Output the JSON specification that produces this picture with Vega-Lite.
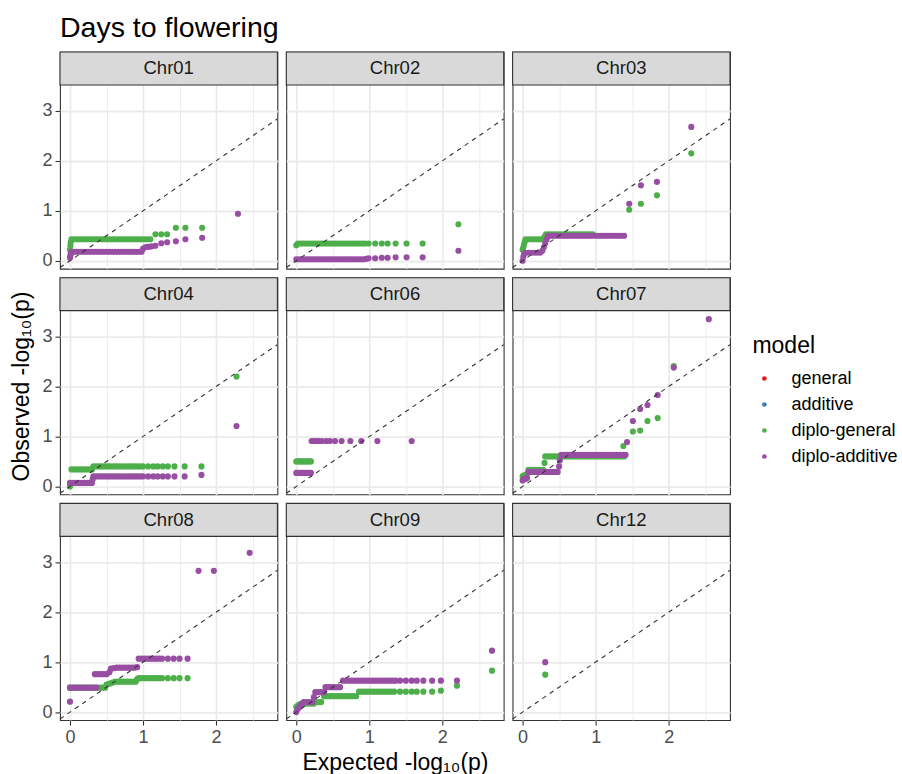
{
"$schema": "https://vega.github.io/schema/vega-lite/v6.json",
"background": "white",
"padding": {"left": 10, "top": 14, "right": 5, "bottom": 5},
"title": {"text": "Days to flowering", "anchor": "start", "frame": "group", "font": "Liberation Sans", "fontSize": 28.5, "fontWeight": "normal", "color": "#000000", "offset": 8},
"data": {"values": [
{"c":"Chr01","m":"diplo-general","x":0,"y":0.22},{"c":"Chr01","m":"diplo-general","x":0.005,"y":0.3},{"c":"Chr01","m":"diplo-general","x":0.01,"y":0.37},
{"c":"Chr01","m":"diplo-general","x":0.02,"y":0.43},{"c":"Chr01","m":"diplo-general","x":0.06,"y":0.43},{"c":"Chr01","m":"diplo-general","x":0.10,"y":0.43},{"c":"Chr01","m":"diplo-general","x":0.14,"y":0.43},{"c":"Chr01","m":"diplo-general","x":0.18,"y":0.43},{"c":"Chr01","m":"diplo-general","x":0.22,"y":0.43},{"c":"Chr01","m":"diplo-general","x":0.26,"y":0.43},{"c":"Chr01","m":"diplo-general","x":0.30,"y":0.43},{"c":"Chr01","m":"diplo-general","x":0.34,"y":0.43},{"c":"Chr01","m":"diplo-general","x":0.38,"y":0.43},{"c":"Chr01","m":"diplo-general","x":0.42,"y":0.43},{"c":"Chr01","m":"diplo-general","x":0.46,"y":0.43},{"c":"Chr01","m":"diplo-general","x":0.50,"y":0.43},{"c":"Chr01","m":"diplo-general","x":0.54,"y":0.43},{"c":"Chr01","m":"diplo-general","x":0.58,"y":0.43},{"c":"Chr01","m":"diplo-general","x":0.62,"y":0.43},{"c":"Chr01","m":"diplo-general","x":0.66,"y":0.43},{"c":"Chr01","m":"diplo-general","x":0.70,"y":0.43},{"c":"Chr01","m":"diplo-general","x":0.74,"y":0.43},{"c":"Chr01","m":"diplo-general","x":0.78,"y":0.43},{"c":"Chr01","m":"diplo-general","x":0.82,"y":0.43},{"c":"Chr01","m":"diplo-general","x":0.86,"y":0.43},{"c":"Chr01","m":"diplo-general","x":0.90,"y":0.43},{"c":"Chr01","m":"diplo-general","x":0.94,"y":0.43},{"c":"Chr01","m":"diplo-general","x":0.98,"y":0.43},{"c":"Chr01","m":"diplo-general","x":1.02,"y":0.43},{"c":"Chr01","m":"diplo-general","x":1.06,"y":0.43},{"c":"Chr01","m":"diplo-general","x":1.10,"y":0.43},
{"c":"Chr01","m":"diplo-general","x":1.17,"y":0.53},{"c":"Chr01","m":"diplo-general","x":1.25,"y":0.53},{"c":"Chr01","m":"diplo-general","x":1.33,"y":0.53},{"c":"Chr01","m":"diplo-general","x":1.45,"y":0.66},{"c":"Chr01","m":"diplo-general","x":1.58,"y":0.66},{"c":"Chr01","m":"diplo-general","x":1.81,"y":0.66},
{"c":"Chr01","m":"diplo-additive","x":0,"y":0.06},{"c":"Chr01","m":"diplo-additive","x":0.005,"y":0.1},{"c":"Chr01","m":"diplo-additive","x":0.01,"y":0.14},
{"c":"Chr01","m":"diplo-additive","x":0.02,"y":0.18},{"c":"Chr01","m":"diplo-additive","x":0.06,"y":0.18},{"c":"Chr01","m":"diplo-additive","x":0.10,"y":0.18},{"c":"Chr01","m":"diplo-additive","x":0.14,"y":0.18},{"c":"Chr01","m":"diplo-additive","x":0.18,"y":0.18},{"c":"Chr01","m":"diplo-additive","x":0.22,"y":0.18},{"c":"Chr01","m":"diplo-additive","x":0.26,"y":0.18},{"c":"Chr01","m":"diplo-additive","x":0.30,"y":0.18},{"c":"Chr01","m":"diplo-additive","x":0.34,"y":0.18},{"c":"Chr01","m":"diplo-additive","x":0.38,"y":0.18},{"c":"Chr01","m":"diplo-additive","x":0.42,"y":0.18},{"c":"Chr01","m":"diplo-additive","x":0.46,"y":0.18},{"c":"Chr01","m":"diplo-additive","x":0.50,"y":0.18},{"c":"Chr01","m":"diplo-additive","x":0.54,"y":0.18},{"c":"Chr01","m":"diplo-additive","x":0.58,"y":0.18},{"c":"Chr01","m":"diplo-additive","x":0.62,"y":0.18},{"c":"Chr01","m":"diplo-additive","x":0.66,"y":0.18},{"c":"Chr01","m":"diplo-additive","x":0.70,"y":0.18},{"c":"Chr01","m":"diplo-additive","x":0.74,"y":0.18},{"c":"Chr01","m":"diplo-additive","x":0.78,"y":0.18},{"c":"Chr01","m":"diplo-additive","x":0.82,"y":0.18},{"c":"Chr01","m":"diplo-additive","x":0.86,"y":0.18},{"c":"Chr01","m":"diplo-additive","x":0.90,"y":0.18},{"c":"Chr01","m":"diplo-additive","x":0.94,"y":0.18},{"c":"Chr01","m":"diplo-additive","x":0.98,"y":0.18},
{"c":"Chr01","m":"diplo-additive","x":1.0,"y":0.24},{"c":"Chr01","m":"diplo-additive","x":1.03,"y":0.27},{"c":"Chr01","m":"diplo-additive","x":1.06,"y":0.28},{"c":"Chr01","m":"diplo-additive","x":1.09,"y":0.28},{"c":"Chr01","m":"diplo-additive","x":1.12,"y":0.29},{"c":"Chr01","m":"diplo-additive","x":1.17,"y":0.3},{"c":"Chr01","m":"diplo-additive","x":1.25,"y":0.35},{"c":"Chr01","m":"diplo-additive","x":1.33,"y":0.37},{"c":"Chr01","m":"diplo-additive","x":1.45,"y":0.39},{"c":"Chr01","m":"diplo-additive","x":1.58,"y":0.43},{"c":"Chr01","m":"diplo-additive","x":1.81,"y":0.46},{"c":"Chr01","m":"diplo-additive","x":2.30,"y":0.94},

{"c":"Chr02","m":"diplo-general","x":0,"y":0.31},
{"c":"Chr02","m":"diplo-general","x":0.02,"y":0.345},{"c":"Chr02","m":"diplo-general","x":0.06,"y":0.345},{"c":"Chr02","m":"diplo-general","x":0.10,"y":0.345},{"c":"Chr02","m":"diplo-general","x":0.14,"y":0.345},{"c":"Chr02","m":"diplo-general","x":0.18,"y":0.345},{"c":"Chr02","m":"diplo-general","x":0.22,"y":0.345},{"c":"Chr02","m":"diplo-general","x":0.26,"y":0.345},{"c":"Chr02","m":"diplo-general","x":0.30,"y":0.345},{"c":"Chr02","m":"diplo-general","x":0.34,"y":0.345},{"c":"Chr02","m":"diplo-general","x":0.38,"y":0.345},{"c":"Chr02","m":"diplo-general","x":0.42,"y":0.345},{"c":"Chr02","m":"diplo-general","x":0.46,"y":0.345},{"c":"Chr02","m":"diplo-general","x":0.50,"y":0.345},{"c":"Chr02","m":"diplo-general","x":0.54,"y":0.345},{"c":"Chr02","m":"diplo-general","x":0.58,"y":0.345},{"c":"Chr02","m":"diplo-general","x":0.62,"y":0.345},{"c":"Chr02","m":"diplo-general","x":0.66,"y":0.345},{"c":"Chr02","m":"diplo-general","x":0.70,"y":0.345},{"c":"Chr02","m":"diplo-general","x":0.74,"y":0.345},{"c":"Chr02","m":"diplo-general","x":0.78,"y":0.345},{"c":"Chr02","m":"diplo-general","x":0.82,"y":0.345},{"c":"Chr02","m":"diplo-general","x":0.86,"y":0.345},{"c":"Chr02","m":"diplo-general","x":0.90,"y":0.345},{"c":"Chr02","m":"diplo-general","x":0.94,"y":0.345},
{"c":"Chr02","m":"diplo-general","x":0.99,"y":0.345},{"c":"Chr02","m":"diplo-general","x":1.08,"y":0.345},{"c":"Chr02","m":"diplo-general","x":1.17,"y":0.345},{"c":"Chr02","m":"diplo-general","x":1.25,"y":0.345},{"c":"Chr02","m":"diplo-general","x":1.36,"y":0.345},{"c":"Chr02","m":"diplo-general","x":1.51,"y":0.345},{"c":"Chr02","m":"diplo-general","x":1.73,"y":0.345},{"c":"Chr02","m":"diplo-general","x":2.22,"y":0.73},
{"c":"Chr02","m":"diplo-additive","x":0,"y":0.03},{"c":"Chr02","m":"diplo-additive","x":0.04,"y":0.03},{"c":"Chr02","m":"diplo-additive","x":0.08,"y":0.03},{"c":"Chr02","m":"diplo-additive","x":0.12,"y":0.03},{"c":"Chr02","m":"diplo-additive","x":0.16,"y":0.03},{"c":"Chr02","m":"diplo-additive","x":0.20,"y":0.03},{"c":"Chr02","m":"diplo-additive","x":0.24,"y":0.03},{"c":"Chr02","m":"diplo-additive","x":0.28,"y":0.03},{"c":"Chr02","m":"diplo-additive","x":0.32,"y":0.03},{"c":"Chr02","m":"diplo-additive","x":0.36,"y":0.03},{"c":"Chr02","m":"diplo-additive","x":0.40,"y":0.03},{"c":"Chr02","m":"diplo-additive","x":0.44,"y":0.03},{"c":"Chr02","m":"diplo-additive","x":0.48,"y":0.03},{"c":"Chr02","m":"diplo-additive","x":0.52,"y":0.03},{"c":"Chr02","m":"diplo-additive","x":0.56,"y":0.03},{"c":"Chr02","m":"diplo-additive","x":0.60,"y":0.03},{"c":"Chr02","m":"diplo-additive","x":0.64,"y":0.03},{"c":"Chr02","m":"diplo-additive","x":0.68,"y":0.03},{"c":"Chr02","m":"diplo-additive","x":0.72,"y":0.03},{"c":"Chr02","m":"diplo-additive","x":0.76,"y":0.03},{"c":"Chr02","m":"diplo-additive","x":0.80,"y":0.03},{"c":"Chr02","m":"diplo-additive","x":0.84,"y":0.03},{"c":"Chr02","m":"diplo-additive","x":0.88,"y":0.03},{"c":"Chr02","m":"diplo-additive","x":0.92,"y":0.03},
{"c":"Chr02","m":"diplo-additive","x":0.96,"y":0.04},{"c":"Chr02","m":"diplo-additive","x":0.99,"y":0.05},{"c":"Chr02","m":"diplo-additive","x":1.08,"y":0.05},{"c":"Chr02","m":"diplo-additive","x":1.17,"y":0.06},{"c":"Chr02","m":"diplo-additive","x":1.25,"y":0.06},{"c":"Chr02","m":"diplo-additive","x":1.36,"y":0.07},{"c":"Chr02","m":"diplo-additive","x":1.51,"y":0.07},{"c":"Chr02","m":"diplo-additive","x":1.73,"y":0.07},{"c":"Chr02","m":"diplo-additive","x":2.22,"y":0.2},

{"c":"Chr03","m":"diplo-general","x":0,"y":0.22},{"c":"Chr03","m":"diplo-general","x":0.01,"y":0.27},{"c":"Chr03","m":"diplo-general","x":0.02,"y":0.33},{"c":"Chr03","m":"diplo-general","x":0.03,"y":0.38},
{"c":"Chr03","m":"diplo-general","x":0.04,"y":0.43},{"c":"Chr03","m":"diplo-general","x":0.08,"y":0.43},{"c":"Chr03","m":"diplo-general","x":0.12,"y":0.43},{"c":"Chr03","m":"diplo-general","x":0.16,"y":0.43},{"c":"Chr03","m":"diplo-general","x":0.20,"y":0.43},{"c":"Chr03","m":"diplo-general","x":0.24,"y":0.43},{"c":"Chr03","m":"diplo-general","x":0.28,"y":0.43},{"c":"Chr03","m":"diplo-general","x":0.30,"y":0.48},
{"c":"Chr03","m":"diplo-general","x":0.32,"y":0.53},{"c":"Chr03","m":"diplo-general","x":0.36,"y":0.53},{"c":"Chr03","m":"diplo-general","x":0.40,"y":0.53},{"c":"Chr03","m":"diplo-general","x":0.44,"y":0.53},{"c":"Chr03","m":"diplo-general","x":0.48,"y":0.53},{"c":"Chr03","m":"diplo-general","x":0.52,"y":0.53},{"c":"Chr03","m":"diplo-general","x":0.56,"y":0.53},{"c":"Chr03","m":"diplo-general","x":0.60,"y":0.53},{"c":"Chr03","m":"diplo-general","x":0.64,"y":0.53},{"c":"Chr03","m":"diplo-general","x":0.68,"y":0.53},{"c":"Chr03","m":"diplo-general","x":0.72,"y":0.53},{"c":"Chr03","m":"diplo-general","x":0.76,"y":0.53},{"c":"Chr03","m":"diplo-general","x":0.80,"y":0.53},{"c":"Chr03","m":"diplo-general","x":0.84,"y":0.53},{"c":"Chr03","m":"diplo-general","x":0.88,"y":0.53},{"c":"Chr03","m":"diplo-general","x":0.92,"y":0.53},{"c":"Chr03","m":"diplo-general","x":0.96,"y":0.53},
{"c":"Chr03","m":"diplo-general","x":1.46,"y":1.02},{"c":"Chr03","m":"diplo-general","x":1.62,"y":1.14},{"c":"Chr03","m":"diplo-general","x":1.84,"y":1.31},{"c":"Chr03","m":"diplo-general","x":2.31,"y":2.15},
{"c":"Chr03","m":"diplo-additive","x":0,"y":0},{"c":"Chr03","m":"diplo-additive","x":0.01,"y":0.08},{"c":"Chr03","m":"diplo-additive","x":0.02,"y":0.13},
{"c":"Chr03","m":"diplo-additive","x":0.04,"y":0.16},{"c":"Chr03","m":"diplo-additive","x":0.08,"y":0.16},{"c":"Chr03","m":"diplo-additive","x":0.12,"y":0.16},{"c":"Chr03","m":"diplo-additive","x":0.16,"y":0.16},{"c":"Chr03","m":"diplo-additive","x":0.20,"y":0.16},{"c":"Chr03","m":"diplo-additive","x":0.24,"y":0.16},
{"c":"Chr03","m":"diplo-additive","x":0.27,"y":0.2},{"c":"Chr03","m":"diplo-additive","x":0.29,"y":0.27},{"c":"Chr03","m":"diplo-additive","x":0.31,"y":0.35},{"c":"Chr03","m":"diplo-additive","x":0.33,"y":0.43},
{"c":"Chr03","m":"diplo-additive","x":0.35,"y":0.5},{"c":"Chr03","m":"diplo-additive","x":0.39,"y":0.5},{"c":"Chr03","m":"diplo-additive","x":0.43,"y":0.5},{"c":"Chr03","m":"diplo-additive","x":0.47,"y":0.5},{"c":"Chr03","m":"diplo-additive","x":0.51,"y":0.5},{"c":"Chr03","m":"diplo-additive","x":0.55,"y":0.5},{"c":"Chr03","m":"diplo-additive","x":0.59,"y":0.5},{"c":"Chr03","m":"diplo-additive","x":0.63,"y":0.5},{"c":"Chr03","m":"diplo-additive","x":0.67,"y":0.5},{"c":"Chr03","m":"diplo-additive","x":0.71,"y":0.5},{"c":"Chr03","m":"diplo-additive","x":0.75,"y":0.5},{"c":"Chr03","m":"diplo-additive","x":0.79,"y":0.5},{"c":"Chr03","m":"diplo-additive","x":0.83,"y":0.5},{"c":"Chr03","m":"diplo-additive","x":0.87,"y":0.5},{"c":"Chr03","m":"diplo-additive","x":0.91,"y":0.5},{"c":"Chr03","m":"diplo-additive","x":0.95,"y":0.5},{"c":"Chr03","m":"diplo-additive","x":0.99,"y":0.5},{"c":"Chr03","m":"diplo-additive","x":1.03,"y":0.5},{"c":"Chr03","m":"diplo-additive","x":1.07,"y":0.5},{"c":"Chr03","m":"diplo-additive","x":1.11,"y":0.5},{"c":"Chr03","m":"diplo-additive","x":1.15,"y":0.5},{"c":"Chr03","m":"diplo-additive","x":1.19,"y":0.5},{"c":"Chr03","m":"diplo-additive","x":1.23,"y":0.5},{"c":"Chr03","m":"diplo-additive","x":1.27,"y":0.5},{"c":"Chr03","m":"diplo-additive","x":1.31,"y":0.5},{"c":"Chr03","m":"diplo-additive","x":1.35,"y":0.5},{"c":"Chr03","m":"diplo-additive","x":1.39,"y":0.5},
{"c":"Chr03","m":"diplo-additive","x":1.46,"y":1.14},{"c":"Chr03","m":"diplo-additive","x":1.62,"y":1.51},{"c":"Chr03","m":"diplo-additive","x":1.84,"y":1.58},{"c":"Chr03","m":"diplo-additive","x":2.31,"y":2.68},

{"c":"Chr04","m":"diplo-general","x":0,"y":0},
{"c":"Chr04","m":"diplo-general","x":0.02,"y":0.34},{"c":"Chr04","m":"diplo-general","x":0.06,"y":0.34},{"c":"Chr04","m":"diplo-general","x":0.10,"y":0.34},{"c":"Chr04","m":"diplo-general","x":0.14,"y":0.34},{"c":"Chr04","m":"diplo-general","x":0.18,"y":0.34},{"c":"Chr04","m":"diplo-general","x":0.22,"y":0.34},{"c":"Chr04","m":"diplo-general","x":0.26,"y":0.34},{"c":"Chr04","m":"diplo-general","x":0.30,"y":0.34},
{"c":"Chr04","m":"diplo-general","x":0.32,"y":0.4},{"c":"Chr04","m":"diplo-general","x":0.36,"y":0.4},{"c":"Chr04","m":"diplo-general","x":0.40,"y":0.4},{"c":"Chr04","m":"diplo-general","x":0.44,"y":0.4},{"c":"Chr04","m":"diplo-general","x":0.48,"y":0.4},{"c":"Chr04","m":"diplo-general","x":0.52,"y":0.4},{"c":"Chr04","m":"diplo-general","x":0.56,"y":0.4},{"c":"Chr04","m":"diplo-general","x":0.60,"y":0.4},{"c":"Chr04","m":"diplo-general","x":0.64,"y":0.4},{"c":"Chr04","m":"diplo-general","x":0.68,"y":0.4},{"c":"Chr04","m":"diplo-general","x":0.72,"y":0.4},{"c":"Chr04","m":"diplo-general","x":0.76,"y":0.4},{"c":"Chr04","m":"diplo-general","x":0.80,"y":0.4},{"c":"Chr04","m":"diplo-general","x":0.84,"y":0.4},{"c":"Chr04","m":"diplo-general","x":0.88,"y":0.4},{"c":"Chr04","m":"diplo-general","x":0.92,"y":0.4},{"c":"Chr04","m":"diplo-general","x":0.96,"y":0.4},
{"c":"Chr04","m":"diplo-general","x":1.0,"y":0.4},{"c":"Chr04","m":"diplo-general","x":1.07,"y":0.4},{"c":"Chr04","m":"diplo-general","x":1.14,"y":0.4},{"c":"Chr04","m":"diplo-general","x":1.2,"y":0.4},{"c":"Chr04","m":"diplo-general","x":1.27,"y":0.4},{"c":"Chr04","m":"diplo-general","x":1.34,"y":0.4},{"c":"Chr04","m":"diplo-general","x":1.43,"y":0.4},{"c":"Chr04","m":"diplo-general","x":1.57,"y":0.4},{"c":"Chr04","m":"diplo-general","x":1.80,"y":0.4},{"c":"Chr04","m":"diplo-general","x":2.28,"y":2.2},
{"c":"Chr04","m":"diplo-additive","x":0,"y":0.07},{"c":"Chr04","m":"diplo-additive","x":0.04,"y":0.07},{"c":"Chr04","m":"diplo-additive","x":0.08,"y":0.07},{"c":"Chr04","m":"diplo-additive","x":0.12,"y":0.07},{"c":"Chr04","m":"diplo-additive","x":0.16,"y":0.07},{"c":"Chr04","m":"diplo-additive","x":0.20,"y":0.07},{"c":"Chr04","m":"diplo-additive","x":0.24,"y":0.07},{"c":"Chr04","m":"diplo-additive","x":0.28,"y":0.07},{"c":"Chr04","m":"diplo-additive","x":0.30,"y":0.07},{"c":"Chr04","m":"diplo-additive","x":0.31,"y":0.14},
{"c":"Chr04","m":"diplo-additive","x":0.32,"y":0.2},{"c":"Chr04","m":"diplo-additive","x":0.36,"y":0.2},{"c":"Chr04","m":"diplo-additive","x":0.40,"y":0.2},{"c":"Chr04","m":"diplo-additive","x":0.44,"y":0.2},{"c":"Chr04","m":"diplo-additive","x":0.48,"y":0.2},{"c":"Chr04","m":"diplo-additive","x":0.52,"y":0.2},{"c":"Chr04","m":"diplo-additive","x":0.56,"y":0.2},{"c":"Chr04","m":"diplo-additive","x":0.60,"y":0.2},{"c":"Chr04","m":"diplo-additive","x":0.64,"y":0.2},{"c":"Chr04","m":"diplo-additive","x":0.68,"y":0.2},{"c":"Chr04","m":"diplo-additive","x":0.72,"y":0.2},{"c":"Chr04","m":"diplo-additive","x":0.76,"y":0.2},{"c":"Chr04","m":"diplo-additive","x":0.80,"y":0.2},{"c":"Chr04","m":"diplo-additive","x":0.84,"y":0.2},{"c":"Chr04","m":"diplo-additive","x":0.88,"y":0.2},{"c":"Chr04","m":"diplo-additive","x":0.92,"y":0.2},{"c":"Chr04","m":"diplo-additive","x":0.96,"y":0.2},
{"c":"Chr04","m":"diplo-additive","x":1.0,"y":0.2},{"c":"Chr04","m":"diplo-additive","x":1.07,"y":0.2},{"c":"Chr04","m":"diplo-additive","x":1.14,"y":0.2},{"c":"Chr04","m":"diplo-additive","x":1.2,"y":0.2},{"c":"Chr04","m":"diplo-additive","x":1.27,"y":0.2},{"c":"Chr04","m":"diplo-additive","x":1.34,"y":0.2},{"c":"Chr04","m":"diplo-additive","x":1.43,"y":0.2},{"c":"Chr04","m":"diplo-additive","x":1.57,"y":0.2},{"c":"Chr04","m":"diplo-additive","x":1.80,"y":0.23},{"c":"Chr04","m":"diplo-additive","x":2.28,"y":1.21},

{"c":"Chr06","m":"diplo-general","x":0,"y":0.5},{"c":"Chr06","m":"diplo-general","x":0.025,"y":0.5},{"c":"Chr06","m":"diplo-general","x":0.05,"y":0.5},{"c":"Chr06","m":"diplo-general","x":0.075,"y":0.5},{"c":"Chr06","m":"diplo-general","x":0.1,"y":0.5},{"c":"Chr06","m":"diplo-general","x":0.125,"y":0.5},{"c":"Chr06","m":"diplo-general","x":0.15,"y":0.5},{"c":"Chr06","m":"diplo-general","x":0.175,"y":0.5},{"c":"Chr06","m":"diplo-general","x":0.2,"y":0.5},
{"c":"Chr06","m":"diplo-additive","x":0,"y":0.27},{"c":"Chr06","m":"diplo-additive","x":0.025,"y":0.27},{"c":"Chr06","m":"diplo-additive","x":0.05,"y":0.27},{"c":"Chr06","m":"diplo-additive","x":0.075,"y":0.27},{"c":"Chr06","m":"diplo-additive","x":0.1,"y":0.27},{"c":"Chr06","m":"diplo-additive","x":0.125,"y":0.27},{"c":"Chr06","m":"diplo-additive","x":0.15,"y":0.27},{"c":"Chr06","m":"diplo-additive","x":0.175,"y":0.27},{"c":"Chr06","m":"diplo-additive","x":0.2,"y":0.27},
{"c":"Chr06","m":"diplo-additive","x":0.21,"y":0.91},{"c":"Chr06","m":"diplo-additive","x":0.24,"y":0.91},{"c":"Chr06","m":"diplo-additive","x":0.26,"y":0.91},{"c":"Chr06","m":"diplo-additive","x":0.29,"y":0.91},{"c":"Chr06","m":"diplo-additive","x":0.31,"y":0.91},{"c":"Chr06","m":"diplo-additive","x":0.35,"y":0.91},{"c":"Chr06","m":"diplo-additive","x":0.41,"y":0.91},{"c":"Chr06","m":"diplo-additive","x":0.46,"y":0.91},{"c":"Chr06","m":"diplo-additive","x":0.53,"y":0.91},{"c":"Chr06","m":"diplo-additive","x":0.62,"y":0.91},{"c":"Chr06","m":"diplo-additive","x":0.74,"y":0.91},{"c":"Chr06","m":"diplo-additive","x":0.89,"y":0.91},{"c":"Chr06","m":"diplo-additive","x":1.11,"y":0.91},{"c":"Chr06","m":"diplo-additive","x":1.58,"y":0.91},

{"c":"Chr07","m":"diplo-general","x":0,"y":0.2},{"c":"Chr07","m":"diplo-general","x":0.02,"y":0.22},{"c":"Chr07","m":"diplo-general","x":0.04,"y":0.22},{"c":"Chr07","m":"diplo-general","x":0.06,"y":0.25},
{"c":"Chr07","m":"diplo-general","x":0.08,"y":0.33},{"c":"Chr07","m":"diplo-general","x":0.12,"y":0.33},{"c":"Chr07","m":"diplo-general","x":0.16,"y":0.33},{"c":"Chr07","m":"diplo-general","x":0.20,"y":0.33},{"c":"Chr07","m":"diplo-general","x":0.24,"y":0.33},{"c":"Chr07","m":"diplo-general","x":0.28,"y":0.33},{"c":"Chr07","m":"diplo-general","x":0.30,"y":0.47},
{"c":"Chr07","m":"diplo-general","x":0.31,"y":0.6},{"c":"Chr07","m":"diplo-general","x":0.35,"y":0.6},{"c":"Chr07","m":"diplo-general","x":0.39,"y":0.6},{"c":"Chr07","m":"diplo-general","x":0.43,"y":0.6},{"c":"Chr07","m":"diplo-general","x":0.47,"y":0.6},{"c":"Chr07","m":"diplo-general","x":0.51,"y":0.6},{"c":"Chr07","m":"diplo-general","x":0.55,"y":0.6},{"c":"Chr07","m":"diplo-general","x":0.59,"y":0.6},{"c":"Chr07","m":"diplo-general","x":0.63,"y":0.6},{"c":"Chr07","m":"diplo-general","x":0.67,"y":0.6},{"c":"Chr07","m":"diplo-general","x":0.71,"y":0.6},{"c":"Chr07","m":"diplo-general","x":0.75,"y":0.6},{"c":"Chr07","m":"diplo-general","x":0.79,"y":0.6},{"c":"Chr07","m":"diplo-general","x":0.83,"y":0.6},{"c":"Chr07","m":"diplo-general","x":0.87,"y":0.6},{"c":"Chr07","m":"diplo-general","x":0.91,"y":0.6},{"c":"Chr07","m":"diplo-general","x":0.95,"y":0.6},{"c":"Chr07","m":"diplo-general","x":0.99,"y":0.6},{"c":"Chr07","m":"diplo-general","x":1.03,"y":0.6},{"c":"Chr07","m":"diplo-general","x":1.07,"y":0.6},{"c":"Chr07","m":"diplo-general","x":1.11,"y":0.6},{"c":"Chr07","m":"diplo-general","x":1.15,"y":0.6},{"c":"Chr07","m":"diplo-general","x":1.19,"y":0.6},{"c":"Chr07","m":"diplo-general","x":1.23,"y":0.6},{"c":"Chr07","m":"diplo-general","x":1.27,"y":0.6},{"c":"Chr07","m":"diplo-general","x":1.31,"y":0.6},{"c":"Chr07","m":"diplo-general","x":1.35,"y":0.6},{"c":"Chr07","m":"diplo-general","x":1.39,"y":0.6},
{"c":"Chr07","m":"diplo-general","x":1.38,"y":0.81},{"c":"Chr07","m":"diplo-general","x":1.51,"y":1.10},{"c":"Chr07","m":"diplo-general","x":1.61,"y":1.12},{"c":"Chr07","m":"diplo-general","x":1.71,"y":1.31},{"c":"Chr07","m":"diplo-general","x":1.85,"y":1.37},{"c":"Chr07","m":"diplo-general","x":2.07,"y":2.41},
{"c":"Chr07","m":"diplo-additive","x":0,"y":0.12},{"c":"Chr07","m":"diplo-additive","x":0.02,"y":0.15},{"c":"Chr07","m":"diplo-additive","x":0.04,"y":0.15},{"c":"Chr07","m":"diplo-additive","x":0.06,"y":0.17},
{"c":"Chr07","m":"diplo-additive","x":0.08,"y":0.29},{"c":"Chr07","m":"diplo-additive","x":0.12,"y":0.29},{"c":"Chr07","m":"diplo-additive","x":0.16,"y":0.29},{"c":"Chr07","m":"diplo-additive","x":0.20,"y":0.29},{"c":"Chr07","m":"diplo-additive","x":0.24,"y":0.29},{"c":"Chr07","m":"diplo-additive","x":0.28,"y":0.29},{"c":"Chr07","m":"diplo-additive","x":0.32,"y":0.29},{"c":"Chr07","m":"diplo-additive","x":0.36,"y":0.29},{"c":"Chr07","m":"diplo-additive","x":0.40,"y":0.29},{"c":"Chr07","m":"diplo-additive","x":0.44,"y":0.29},{"c":"Chr07","m":"diplo-additive","x":0.48,"y":0.29},
{"c":"Chr07","m":"diplo-additive","x":0.50,"y":0.4},{"c":"Chr07","m":"diplo-additive","x":0.51,"y":0.52},
{"c":"Chr07","m":"diplo-additive","x":0.53,"y":0.63},{"c":"Chr07","m":"diplo-additive","x":0.57,"y":0.63},{"c":"Chr07","m":"diplo-additive","x":0.61,"y":0.63},{"c":"Chr07","m":"diplo-additive","x":0.65,"y":0.63},{"c":"Chr07","m":"diplo-additive","x":0.69,"y":0.63},{"c":"Chr07","m":"diplo-additive","x":0.73,"y":0.63},{"c":"Chr07","m":"diplo-additive","x":0.77,"y":0.63},{"c":"Chr07","m":"diplo-additive","x":0.81,"y":0.63},{"c":"Chr07","m":"diplo-additive","x":0.85,"y":0.63},{"c":"Chr07","m":"diplo-additive","x":0.89,"y":0.63},{"c":"Chr07","m":"diplo-additive","x":0.93,"y":0.63},{"c":"Chr07","m":"diplo-additive","x":0.97,"y":0.63},{"c":"Chr07","m":"diplo-additive","x":1.01,"y":0.63},{"c":"Chr07","m":"diplo-additive","x":1.05,"y":0.63},{"c":"Chr07","m":"diplo-additive","x":1.09,"y":0.63},{"c":"Chr07","m":"diplo-additive","x":1.13,"y":0.63},{"c":"Chr07","m":"diplo-additive","x":1.17,"y":0.63},{"c":"Chr07","m":"diplo-additive","x":1.21,"y":0.63},{"c":"Chr07","m":"diplo-additive","x":1.25,"y":0.63},{"c":"Chr07","m":"diplo-additive","x":1.29,"y":0.63},{"c":"Chr07","m":"diplo-additive","x":1.33,"y":0.63},{"c":"Chr07","m":"diplo-additive","x":1.37,"y":0.63},{"c":"Chr07","m":"diplo-additive","x":1.41,"y":0.63},
{"c":"Chr07","m":"diplo-additive","x":1.43,"y":0.89},{"c":"Chr07","m":"diplo-additive","x":1.51,"y":1.31},{"c":"Chr07","m":"diplo-additive","x":1.61,"y":1.55},{"c":"Chr07","m":"diplo-additive","x":1.71,"y":1.63},{"c":"Chr07","m":"diplo-additive","x":1.85,"y":1.83},{"c":"Chr07","m":"diplo-additive","x":2.07,"y":2.38},{"c":"Chr07","m":"diplo-additive","x":2.55,"y":3.35},

{"c":"Chr08","m":"diplo-general","x":0,"y":0.49},{"c":"Chr08","m":"diplo-general","x":0.04,"y":0.49},{"c":"Chr08","m":"diplo-general","x":0.08,"y":0.49},{"c":"Chr08","m":"diplo-general","x":0.12,"y":0.49},{"c":"Chr08","m":"diplo-general","x":0.16,"y":0.49},{"c":"Chr08","m":"diplo-general","x":0.20,"y":0.49},{"c":"Chr08","m":"diplo-general","x":0.24,"y":0.49},{"c":"Chr08","m":"diplo-general","x":0.28,"y":0.49},{"c":"Chr08","m":"diplo-general","x":0.32,"y":0.49},{"c":"Chr08","m":"diplo-general","x":0.36,"y":0.49},{"c":"Chr08","m":"diplo-general","x":0.40,"y":0.49},{"c":"Chr08","m":"diplo-general","x":0.44,"y":0.49},{"c":"Chr08","m":"diplo-general","x":0.48,"y":0.49},
{"c":"Chr08","m":"diplo-general","x":0.50,"y":0.55},{"c":"Chr08","m":"diplo-general","x":0.54,"y":0.57},{"c":"Chr08","m":"diplo-general","x":0.58,"y":0.59},
{"c":"Chr08","m":"diplo-general","x":0.62,"y":0.61},{"c":"Chr08","m":"diplo-general","x":0.66,"y":0.61},{"c":"Chr08","m":"diplo-general","x":0.70,"y":0.61},{"c":"Chr08","m":"diplo-general","x":0.74,"y":0.61},{"c":"Chr08","m":"diplo-general","x":0.78,"y":0.61},{"c":"Chr08","m":"diplo-general","x":0.82,"y":0.61},{"c":"Chr08","m":"diplo-general","x":0.86,"y":0.61},{"c":"Chr08","m":"diplo-general","x":0.90,"y":0.61},{"c":"Chr08","m":"diplo-general","x":0.92,"y":0.66},
{"c":"Chr08","m":"diplo-general","x":0.94,"y":0.68},{"c":"Chr08","m":"diplo-general","x":0.98,"y":0.68},{"c":"Chr08","m":"diplo-general","x":1.02,"y":0.68},{"c":"Chr08","m":"diplo-general","x":1.06,"y":0.68},{"c":"Chr08","m":"diplo-general","x":1.10,"y":0.68},{"c":"Chr08","m":"diplo-general","x":1.14,"y":0.68},{"c":"Chr08","m":"diplo-general","x":1.18,"y":0.68},{"c":"Chr08","m":"diplo-general","x":1.22,"y":0.68},{"c":"Chr08","m":"diplo-general","x":1.26,"y":0.68},{"c":"Chr08","m":"diplo-general","x":1.34,"y":0.68},{"c":"Chr08","m":"diplo-general","x":1.42,"y":0.68},{"c":"Chr08","m":"diplo-general","x":1.5,"y":0.68},{"c":"Chr08","m":"diplo-general","x":1.61,"y":0.68},
{"c":"Chr08","m":"diplo-additive","x":0,"y":0.21},
{"c":"Chr08","m":"diplo-additive","x":0,"y":0.49},{"c":"Chr08","m":"diplo-additive","x":0.04,"y":0.49},{"c":"Chr08","m":"diplo-additive","x":0.08,"y":0.49},{"c":"Chr08","m":"diplo-additive","x":0.12,"y":0.49},{"c":"Chr08","m":"diplo-additive","x":0.16,"y":0.49},{"c":"Chr08","m":"diplo-additive","x":0.20,"y":0.49},{"c":"Chr08","m":"diplo-additive","x":0.24,"y":0.49},{"c":"Chr08","m":"diplo-additive","x":0.28,"y":0.49},{"c":"Chr08","m":"diplo-additive","x":0.32,"y":0.49},{"c":"Chr08","m":"diplo-additive","x":0.36,"y":0.49},
{"c":"Chr08","m":"diplo-additive","x":0.34,"y":0.76},{"c":"Chr08","m":"diplo-additive","x":0.38,"y":0.76},{"c":"Chr08","m":"diplo-additive","x":0.42,"y":0.76},{"c":"Chr08","m":"diplo-additive","x":0.46,"y":0.76},{"c":"Chr08","m":"diplo-additive","x":0.50,"y":0.76},{"c":"Chr08","m":"diplo-additive","x":0.54,"y":0.8},
{"c":"Chr08","m":"diplo-additive","x":0.56,"y":0.87},{"c":"Chr08","m":"diplo-additive","x":0.60,"y":0.88},{"c":"Chr08","m":"diplo-additive","x":0.64,"y":0.89},{"c":"Chr08","m":"diplo-additive","x":0.68,"y":0.89},{"c":"Chr08","m":"diplo-additive","x":0.72,"y":0.89},{"c":"Chr08","m":"diplo-additive","x":0.76,"y":0.89},{"c":"Chr08","m":"diplo-additive","x":0.80,"y":0.89},{"c":"Chr08","m":"diplo-additive","x":0.84,"y":0.89},{"c":"Chr08","m":"diplo-additive","x":0.88,"y":0.89},{"c":"Chr08","m":"diplo-additive","x":0.92,"y":0.9},
{"c":"Chr08","m":"diplo-additive","x":0.94,"y":1.07},{"c":"Chr08","m":"diplo-additive","x":0.98,"y":1.07},{"c":"Chr08","m":"diplo-additive","x":1.02,"y":1.07},{"c":"Chr08","m":"diplo-additive","x":1.06,"y":1.07},{"c":"Chr08","m":"diplo-additive","x":1.10,"y":1.07},{"c":"Chr08","m":"diplo-additive","x":1.14,"y":1.07},{"c":"Chr08","m":"diplo-additive","x":1.18,"y":1.07},{"c":"Chr08","m":"diplo-additive","x":1.22,"y":1.07},{"c":"Chr08","m":"diplo-additive","x":1.26,"y":1.07},{"c":"Chr08","m":"diplo-additive","x":1.34,"y":1.07},{"c":"Chr08","m":"diplo-additive","x":1.42,"y":1.07},{"c":"Chr08","m":"diplo-additive","x":1.5,"y":1.07},{"c":"Chr08","m":"diplo-additive","x":1.61,"y":1.07},
{"c":"Chr08","m":"diplo-additive","x":1.76,"y":2.83},{"c":"Chr08","m":"diplo-additive","x":1.97,"y":2.83},{"c":"Chr08","m":"diplo-additive","x":2.46,"y":3.19},

{"c":"Chr09","m":"diplo-general","x":0,"y":0.1},{"c":"Chr09","m":"diplo-general","x":0.02,"y":0.13},{"c":"Chr09","m":"diplo-general","x":0.04,"y":0.15},{"c":"Chr09","m":"diplo-general","x":0.06,"y":0.16},
{"c":"Chr09","m":"diplo-general","x":0.08,"y":0.17},{"c":"Chr09","m":"diplo-general","x":0.12,"y":0.17},{"c":"Chr09","m":"diplo-general","x":0.16,"y":0.17},{"c":"Chr09","m":"diplo-general","x":0.20,"y":0.17},{"c":"Chr09","m":"diplo-general","x":0.24,"y":0.17},
{"c":"Chr09","m":"diplo-general","x":0.26,"y":0.2},{"c":"Chr09","m":"diplo-general","x":0.30,"y":0.2},{"c":"Chr09","m":"diplo-general","x":0.34,"y":0.2},
{"c":"Chr09","m":"diplo-general","x":0.38,"y":0.32},{"c":"Chr09","m":"diplo-general","x":0.42,"y":0.32},{"c":"Chr09","m":"diplo-general","x":0.46,"y":0.32},{"c":"Chr09","m":"diplo-general","x":0.50,"y":0.32},{"c":"Chr09","m":"diplo-general","x":0.54,"y":0.32},{"c":"Chr09","m":"diplo-general","x":0.58,"y":0.32},{"c":"Chr09","m":"diplo-general","x":0.62,"y":0.32},{"c":"Chr09","m":"diplo-general","x":0.66,"y":0.32},{"c":"Chr09","m":"diplo-general","x":0.70,"y":0.32},{"c":"Chr09","m":"diplo-general","x":0.74,"y":0.32},{"c":"Chr09","m":"diplo-general","x":0.78,"y":0.32},{"c":"Chr09","m":"diplo-general","x":0.82,"y":0.32},
{"c":"Chr09","m":"diplo-general","x":0.86,"y":0.41},{"c":"Chr09","m":"diplo-general","x":0.90,"y":0.41},{"c":"Chr09","m":"diplo-general","x":0.94,"y":0.41},{"c":"Chr09","m":"diplo-general","x":0.98,"y":0.41},{"c":"Chr09","m":"diplo-general","x":1.02,"y":0.41},{"c":"Chr09","m":"diplo-general","x":1.06,"y":0.41},{"c":"Chr09","m":"diplo-general","x":1.10,"y":0.41},{"c":"Chr09","m":"diplo-general","x":1.14,"y":0.41},{"c":"Chr09","m":"diplo-general","x":1.18,"y":0.41},{"c":"Chr09","m":"diplo-general","x":1.22,"y":0.41},{"c":"Chr09","m":"diplo-general","x":1.26,"y":0.41},{"c":"Chr09","m":"diplo-general","x":1.30,"y":0.41},{"c":"Chr09","m":"diplo-general","x":1.34,"y":0.41},
{"c":"Chr09","m":"diplo-general","x":1.42,"y":0.41},{"c":"Chr09","m":"diplo-general","x":1.5,"y":0.41},{"c":"Chr09","m":"diplo-general","x":1.58,"y":0.41},{"c":"Chr09","m":"diplo-general","x":1.65,"y":0.41},{"c":"Chr09","m":"diplo-general","x":1.74,"y":0.41},{"c":"Chr09","m":"diplo-general","x":1.86,"y":0.41},{"c":"Chr09","m":"diplo-general","x":1.98,"y":0.43},{"c":"Chr09","m":"diplo-general","x":2.2,"y":0.53},{"c":"Chr09","m":"diplo-general","x":2.68,"y":0.83},
{"c":"Chr09","m":"diplo-additive","x":0,"y":0},{"c":"Chr09","m":"diplo-additive","x":0.02,"y":0.06},{"c":"Chr09","m":"diplo-additive","x":0.04,"y":0.1},{"c":"Chr09","m":"diplo-additive","x":0.06,"y":0.13},{"c":"Chr09","m":"diplo-additive","x":0.08,"y":0.17},
{"c":"Chr09","m":"diplo-additive","x":0.10,"y":0.2},{"c":"Chr09","m":"diplo-additive","x":0.14,"y":0.2},{"c":"Chr09","m":"diplo-additive","x":0.18,"y":0.2},{"c":"Chr09","m":"diplo-additive","x":0.22,"y":0.2},{"c":"Chr09","m":"diplo-additive","x":0.24,"y":0.3},
{"c":"Chr09","m":"diplo-additive","x":0.26,"y":0.4},{"c":"Chr09","m":"diplo-additive","x":0.30,"y":0.4},{"c":"Chr09","m":"diplo-additive","x":0.34,"y":0.4},{"c":"Chr09","m":"diplo-additive","x":0.38,"y":0.4},
{"c":"Chr09","m":"diplo-additive","x":0.40,"y":0.5},{"c":"Chr09","m":"diplo-additive","x":0.44,"y":0.5},{"c":"Chr09","m":"diplo-additive","x":0.48,"y":0.5},{"c":"Chr09","m":"diplo-additive","x":0.52,"y":0.5},{"c":"Chr09","m":"diplo-additive","x":0.56,"y":0.5},{"c":"Chr09","m":"diplo-additive","x":0.60,"y":0.5},
{"c":"Chr09","m":"diplo-additive","x":0.64,"y":0.63},{"c":"Chr09","m":"diplo-additive","x":0.68,"y":0.63},{"c":"Chr09","m":"diplo-additive","x":0.72,"y":0.63},{"c":"Chr09","m":"diplo-additive","x":0.76,"y":0.63},{"c":"Chr09","m":"diplo-additive","x":0.80,"y":0.63},{"c":"Chr09","m":"diplo-additive","x":0.84,"y":0.63},{"c":"Chr09","m":"diplo-additive","x":0.88,"y":0.63},{"c":"Chr09","m":"diplo-additive","x":0.92,"y":0.63},{"c":"Chr09","m":"diplo-additive","x":0.96,"y":0.63},{"c":"Chr09","m":"diplo-additive","x":1.00,"y":0.63},{"c":"Chr09","m":"diplo-additive","x":1.04,"y":0.63},{"c":"Chr09","m":"diplo-additive","x":1.08,"y":0.63},{"c":"Chr09","m":"diplo-additive","x":1.12,"y":0.63},{"c":"Chr09","m":"diplo-additive","x":1.16,"y":0.63},{"c":"Chr09","m":"diplo-additive","x":1.20,"y":0.63},{"c":"Chr09","m":"diplo-additive","x":1.24,"y":0.63},{"c":"Chr09","m":"diplo-additive","x":1.28,"y":0.63},{"c":"Chr09","m":"diplo-additive","x":1.32,"y":0.63},{"c":"Chr09","m":"diplo-additive","x":1.36,"y":0.63},
{"c":"Chr09","m":"diplo-additive","x":1.42,"y":0.63},{"c":"Chr09","m":"diplo-additive","x":1.5,"y":0.63},{"c":"Chr09","m":"diplo-additive","x":1.58,"y":0.63},{"c":"Chr09","m":"diplo-additive","x":1.65,"y":0.63},{"c":"Chr09","m":"diplo-additive","x":1.74,"y":0.63},{"c":"Chr09","m":"diplo-additive","x":1.86,"y":0.63},{"c":"Chr09","m":"diplo-additive","x":1.98,"y":0.63},{"c":"Chr09","m":"diplo-additive","x":2.2,"y":0.63},{"c":"Chr09","m":"diplo-additive","x":2.68,"y":1.23},

{"c":"Chr12","m":"diplo-general","x":0.31,"y":0.75},
{"c":"Chr12","m":"diplo-additive","x":0.31,"y":1.0}
]},
"columns": 3,
"spacing": {"row": 8.7, "column": 8.3},
"bounds": "flush",
"resolve": {"scale": {"color": "shared"}, "legend": {"color": "shared"}},
"concat": [
{"width": 217.4, "height": 216.7, "transform": [{"filter": "datum.c === 'Chr01'"}], "layer": [
 {"mark": {"type": "point", "filled": true, "size": 38, "opacity": 1}, "encoding": {
  "x": {"field": "x", "type": "quantitative", "scale": {"domain": [-0.137, 2.84], "nice": false, "zero": false}, "axis": {"values": [0,0.5,1,1.5,2,2.5], "labels": false, "ticks": false, "title": null, "gridWidth": {"condition": {"test": "datum.value % 1 === 0", "value": 1.8}, "value": 0.9}}},
  "y": {"field": "y", "type": "quantitative", "scale": {"domain": [-0.16, 4.18], "nice": false, "zero": false}, "axis": {"values": [0,0.5,1,1.5,2,2.5,3,3.5], "title": null, "labelExpr": "datum.value % 1 === 0 ? format(datum.value, 'd') : ''", "tickOpacity": {"condition": {"test": "datum.value % 1 === 0", "value": 1}, "value": 0}, "gridWidth": {"condition": {"test": "datum.value % 1 === 0", "value": 1.8}, "value": 0.9}}},
  "color": {"field": "m", "type": "nominal", "title": "model", "scale": {"domain": ["general","additive","diplo-general","diplo-additive"], "range": ["#E41A1C","#377EB8","#4DAF4A","#984EA3"]}}}},
 {"transform": [{"aggregate": [{"op": "count", "as": "n"}], "groupby": ["c"]}], "mark": {"type": "rule", "color": "#333333", "strokeWidth": 1.1, "strokeDash": [4.5, 4.5]}, "encoding": {"x": {"datum": -0.137}, "y": {"datum": -0.137}, "x2": {"datum": 2.84}, "y2": {"datum": 2.84}}},
 {"transform": [{"aggregate": [{"op": "count", "as": "n"}], "groupby": ["c"]}], "mark": {"type": "rect", "fill": "#D9D9D9", "stroke": "#333333", "strokeWidth": 1.1}, "encoding": {"x": {"datum": -0.137}, "x2": {"datum": 2.84}, "y": {"datum": 3.52}, "y2": {"datum": 4.18}}},
 {"transform": [{"aggregate": [{"op": "count", "as": "n"}], "groupby": ["c"]}], "mark": {"type": "text", "font": "Liberation Sans", "fontSize": 18.5, "color": "#1A1A1A", "align": "center", "baseline": "middle"}, "encoding": {"x": {"datum": 1.3515}, "y": {"datum": 3.85}, "text": {"field": "c"}}}
]},
{"width": 217.4, "height": 216.7, "transform": [{"filter": "datum.c === 'Chr02'"}], "layer": [
 {"mark": {"type": "point", "filled": true, "size": 38, "opacity": 1}, "encoding": {
  "x": {"field": "x", "type": "quantitative", "scale": {"domain": [-0.137, 2.84], "nice": false, "zero": false}, "axis": {"values": [0,0.5,1,1.5,2,2.5], "labels": false, "ticks": false, "title": null, "gridWidth": {"condition": {"test": "datum.value % 1 === 0", "value": 1.8}, "value": 0.9}}},
  "y": {"field": "y", "type": "quantitative", "scale": {"domain": [-0.16, 4.18], "nice": false, "zero": false}, "axis": {"values": [0,0.5,1,1.5,2,2.5,3,3.5], "labels": false, "ticks": false, "title": null, "gridWidth": {"condition": {"test": "datum.value % 1 === 0", "value": 1.8}, "value": 0.9}}},
  "color": {"field": "m", "type": "nominal", "title": "model", "scale": {"domain": ["general","additive","diplo-general","diplo-additive"], "range": ["#E41A1C","#377EB8","#4DAF4A","#984EA3"]}}}},
 {"transform": [{"aggregate": [{"op": "count", "as": "n"}], "groupby": ["c"]}], "mark": {"type": "rule", "color": "#333333", "strokeWidth": 1.1, "strokeDash": [4.5, 4.5]}, "encoding": {"x": {"datum": -0.137}, "y": {"datum": -0.137}, "x2": {"datum": 2.84}, "y2": {"datum": 2.84}}},
 {"transform": [{"aggregate": [{"op": "count", "as": "n"}], "groupby": ["c"]}], "mark": {"type": "rect", "fill": "#D9D9D9", "stroke": "#333333", "strokeWidth": 1.1}, "encoding": {"x": {"datum": -0.137}, "x2": {"datum": 2.84}, "y": {"datum": 3.52}, "y2": {"datum": 4.18}}},
 {"transform": [{"aggregate": [{"op": "count", "as": "n"}], "groupby": ["c"]}], "mark": {"type": "text", "font": "Liberation Sans", "fontSize": 18.5, "color": "#1A1A1A", "align": "center", "baseline": "middle"}, "encoding": {"x": {"datum": 1.3515}, "y": {"datum": 3.85}, "text": {"field": "c"}}}
]},
{"width": 217.4, "height": 216.7, "transform": [{"filter": "datum.c === 'Chr03'"}], "layer": [
 {"mark": {"type": "point", "filled": true, "size": 38, "opacity": 1}, "encoding": {
  "x": {"field": "x", "type": "quantitative", "scale": {"domain": [-0.137, 2.84], "nice": false, "zero": false}, "axis": {"values": [0,0.5,1,1.5,2,2.5], "labels": false, "ticks": false, "title": null, "gridWidth": {"condition": {"test": "datum.value % 1 === 0", "value": 1.8}, "value": 0.9}}},
  "y": {"field": "y", "type": "quantitative", "scale": {"domain": [-0.16, 4.18], "nice": false, "zero": false}, "axis": {"values": [0,0.5,1,1.5,2,2.5,3,3.5], "labels": false, "ticks": false, "title": null, "gridWidth": {"condition": {"test": "datum.value % 1 === 0", "value": 1.8}, "value": 0.9}}},
  "color": {"field": "m", "type": "nominal", "title": "model", "scale": {"domain": ["general","additive","diplo-general","diplo-additive"], "range": ["#E41A1C","#377EB8","#4DAF4A","#984EA3"]}}}},
 {"transform": [{"aggregate": [{"op": "count", "as": "n"}], "groupby": ["c"]}], "mark": {"type": "rule", "color": "#333333", "strokeWidth": 1.1, "strokeDash": [4.5, 4.5]}, "encoding": {"x": {"datum": -0.137}, "y": {"datum": -0.137}, "x2": {"datum": 2.84}, "y2": {"datum": 2.84}}},
 {"transform": [{"aggregate": [{"op": "count", "as": "n"}], "groupby": ["c"]}], "mark": {"type": "rect", "fill": "#D9D9D9", "stroke": "#333333", "strokeWidth": 1.1}, "encoding": {"x": {"datum": -0.137}, "x2": {"datum": 2.84}, "y": {"datum": 3.52}, "y2": {"datum": 4.18}}},
 {"transform": [{"aggregate": [{"op": "count", "as": "n"}], "groupby": ["c"]}], "mark": {"type": "text", "font": "Liberation Sans", "fontSize": 18.5, "color": "#1A1A1A", "align": "center", "baseline": "middle"}, "encoding": {"x": {"datum": 1.3515}, "y": {"datum": 3.85}, "text": {"field": "c"}}}
]},
{"width": 217.4, "height": 216.7, "transform": [{"filter": "datum.c === 'Chr04'"}], "layer": [
 {"mark": {"type": "point", "filled": true, "size": 38, "opacity": 1}, "encoding": {
  "x": {"field": "x", "type": "quantitative", "scale": {"domain": [-0.137, 2.84], "nice": false, "zero": false}, "axis": {"values": [0,0.5,1,1.5,2,2.5], "labels": false, "ticks": false, "title": null, "gridWidth": {"condition": {"test": "datum.value % 1 === 0", "value": 1.8}, "value": 0.9}}},
  "y": {"field": "y", "type": "quantitative", "scale": {"domain": [-0.16, 4.18], "nice": false, "zero": false}, "axis": {"values": [0,0.5,1,1.5,2,2.5,3,3.5], "title": "Observed -log₁₀(p)", "labelExpr": "datum.value % 1 === 0 ? format(datum.value, 'd') : ''", "tickOpacity": {"condition": {"test": "datum.value % 1 === 0", "value": 1}, "value": 0}, "gridWidth": {"condition": {"test": "datum.value % 1 === 0", "value": 1.8}, "value": 0.9}}},
  "color": {"field": "m", "type": "nominal", "title": "model", "scale": {"domain": ["general","additive","diplo-general","diplo-additive"], "range": ["#E41A1C","#377EB8","#4DAF4A","#984EA3"]}}}},
 {"transform": [{"aggregate": [{"op": "count", "as": "n"}], "groupby": ["c"]}], "mark": {"type": "rule", "color": "#333333", "strokeWidth": 1.1, "strokeDash": [4.5, 4.5]}, "encoding": {"x": {"datum": -0.137}, "y": {"datum": -0.137}, "x2": {"datum": 2.84}, "y2": {"datum": 2.84}}},
 {"transform": [{"aggregate": [{"op": "count", "as": "n"}], "groupby": ["c"]}], "mark": {"type": "rect", "fill": "#D9D9D9", "stroke": "#333333", "strokeWidth": 1.1}, "encoding": {"x": {"datum": -0.137}, "x2": {"datum": 2.84}, "y": {"datum": 3.52}, "y2": {"datum": 4.18}}},
 {"transform": [{"aggregate": [{"op": "count", "as": "n"}], "groupby": ["c"]}], "mark": {"type": "text", "font": "Liberation Sans", "fontSize": 18.5, "color": "#1A1A1A", "align": "center", "baseline": "middle"}, "encoding": {"x": {"datum": 1.3515}, "y": {"datum": 3.85}, "text": {"field": "c"}}}
]},
{"width": 217.4, "height": 216.7, "transform": [{"filter": "datum.c === 'Chr06'"}], "layer": [
 {"mark": {"type": "point", "filled": true, "size": 38, "opacity": 1}, "encoding": {
  "x": {"field": "x", "type": "quantitative", "scale": {"domain": [-0.137, 2.84], "nice": false, "zero": false}, "axis": {"values": [0,0.5,1,1.5,2,2.5], "labels": false, "ticks": false, "title": null, "gridWidth": {"condition": {"test": "datum.value % 1 === 0", "value": 1.8}, "value": 0.9}}},
  "y": {"field": "y", "type": "quantitative", "scale": {"domain": [-0.16, 4.18], "nice": false, "zero": false}, "axis": {"values": [0,0.5,1,1.5,2,2.5,3,3.5], "labels": false, "ticks": false, "title": null, "gridWidth": {"condition": {"test": "datum.value % 1 === 0", "value": 1.8}, "value": 0.9}}},
  "color": {"field": "m", "type": "nominal", "title": "model", "scale": {"domain": ["general","additive","diplo-general","diplo-additive"], "range": ["#E41A1C","#377EB8","#4DAF4A","#984EA3"]}}}},
 {"transform": [{"aggregate": [{"op": "count", "as": "n"}], "groupby": ["c"]}], "mark": {"type": "rule", "color": "#333333", "strokeWidth": 1.1, "strokeDash": [4.5, 4.5]}, "encoding": {"x": {"datum": -0.137}, "y": {"datum": -0.137}, "x2": {"datum": 2.84}, "y2": {"datum": 2.84}}},
 {"transform": [{"aggregate": [{"op": "count", "as": "n"}], "groupby": ["c"]}], "mark": {"type": "rect", "fill": "#D9D9D9", "stroke": "#333333", "strokeWidth": 1.1}, "encoding": {"x": {"datum": -0.137}, "x2": {"datum": 2.84}, "y": {"datum": 3.52}, "y2": {"datum": 4.18}}},
 {"transform": [{"aggregate": [{"op": "count", "as": "n"}], "groupby": ["c"]}], "mark": {"type": "text", "font": "Liberation Sans", "fontSize": 18.5, "color": "#1A1A1A", "align": "center", "baseline": "middle"}, "encoding": {"x": {"datum": 1.3515}, "y": {"datum": 3.85}, "text": {"field": "c"}}}
]},
{"width": 217.4, "height": 216.7, "transform": [{"filter": "datum.c === 'Chr07'"}], "layer": [
 {"mark": {"type": "point", "filled": true, "size": 38, "opacity": 1}, "encoding": {
  "x": {"field": "x", "type": "quantitative", "scale": {"domain": [-0.137, 2.84], "nice": false, "zero": false}, "axis": {"values": [0,0.5,1,1.5,2,2.5], "labels": false, "ticks": false, "title": null, "gridWidth": {"condition": {"test": "datum.value % 1 === 0", "value": 1.8}, "value": 0.9}}},
  "y": {"field": "y", "type": "quantitative", "scale": {"domain": [-0.16, 4.18], "nice": false, "zero": false}, "axis": {"values": [0,0.5,1,1.5,2,2.5,3,3.5], "labels": false, "ticks": false, "title": null, "gridWidth": {"condition": {"test": "datum.value % 1 === 0", "value": 1.8}, "value": 0.9}}},
  "color": {"field": "m", "type": "nominal", "title": "model", "scale": {"domain": ["general","additive","diplo-general","diplo-additive"], "range": ["#E41A1C","#377EB8","#4DAF4A","#984EA3"]}}}},
 {"transform": [{"aggregate": [{"op": "count", "as": "n"}], "groupby": ["c"]}], "mark": {"type": "rule", "color": "#333333", "strokeWidth": 1.1, "strokeDash": [4.5, 4.5]}, "encoding": {"x": {"datum": -0.137}, "y": {"datum": -0.137}, "x2": {"datum": 2.84}, "y2": {"datum": 2.84}}},
 {"transform": [{"aggregate": [{"op": "count", "as": "n"}], "groupby": ["c"]}], "mark": {"type": "rect", "fill": "#D9D9D9", "stroke": "#333333", "strokeWidth": 1.1}, "encoding": {"x": {"datum": -0.137}, "x2": {"datum": 2.84}, "y": {"datum": 3.52}, "y2": {"datum": 4.18}}},
 {"transform": [{"aggregate": [{"op": "count", "as": "n"}], "groupby": ["c"]}], "mark": {"type": "text", "font": "Liberation Sans", "fontSize": 18.5, "color": "#1A1A1A", "align": "center", "baseline": "middle"}, "encoding": {"x": {"datum": 1.3515}, "y": {"datum": 3.85}, "text": {"field": "c"}}}
]},
{"width": 217.4, "height": 216.7, "transform": [{"filter": "datum.c === 'Chr08'"}], "layer": [
 {"mark": {"type": "point", "filled": true, "size": 38, "opacity": 1}, "encoding": {
  "x": {"field": "x", "type": "quantitative", "scale": {"domain": [-0.137, 2.84], "nice": false, "zero": false}, "axis": {"values": [0,0.5,1,1.5,2,2.5], "title": null, "labelExpr": "datum.value % 1 === 0 ? format(datum.value, 'd') : ''", "tickOpacity": {"condition": {"test": "datum.value % 1 === 0", "value": 1}, "value": 0}, "gridWidth": {"condition": {"test": "datum.value % 1 === 0", "value": 1.8}, "value": 0.9}}},
  "y": {"field": "y", "type": "quantitative", "scale": {"domain": [-0.16, 4.18], "nice": false, "zero": false}, "axis": {"values": [0,0.5,1,1.5,2,2.5,3,3.5], "title": null, "labelExpr": "datum.value % 1 === 0 ? format(datum.value, 'd') : ''", "tickOpacity": {"condition": {"test": "datum.value % 1 === 0", "value": 1}, "value": 0}, "gridWidth": {"condition": {"test": "datum.value % 1 === 0", "value": 1.8}, "value": 0.9}}},
  "color": {"field": "m", "type": "nominal", "title": "model", "scale": {"domain": ["general","additive","diplo-general","diplo-additive"], "range": ["#E41A1C","#377EB8","#4DAF4A","#984EA3"]}}}},
 {"transform": [{"aggregate": [{"op": "count", "as": "n"}], "groupby": ["c"]}], "mark": {"type": "rule", "color": "#333333", "strokeWidth": 1.1, "strokeDash": [4.5, 4.5]}, "encoding": {"x": {"datum": -0.137}, "y": {"datum": -0.137}, "x2": {"datum": 2.84}, "y2": {"datum": 2.84}}},
 {"transform": [{"aggregate": [{"op": "count", "as": "n"}], "groupby": ["c"]}], "mark": {"type": "rect", "fill": "#D9D9D9", "stroke": "#333333", "strokeWidth": 1.1}, "encoding": {"x": {"datum": -0.137}, "x2": {"datum": 2.84}, "y": {"datum": 3.52}, "y2": {"datum": 4.18}}},
 {"transform": [{"aggregate": [{"op": "count", "as": "n"}], "groupby": ["c"]}], "mark": {"type": "text", "font": "Liberation Sans", "fontSize": 18.5, "color": "#1A1A1A", "align": "center", "baseline": "middle"}, "encoding": {"x": {"datum": 1.3515}, "y": {"datum": 3.85}, "text": {"field": "c"}}}
]},
{"width": 217.4, "height": 216.7, "transform": [{"filter": "datum.c === 'Chr09'"}], "layer": [
 {"mark": {"type": "point", "filled": true, "size": 38, "opacity": 1}, "encoding": {
  "x": {"field": "x", "type": "quantitative", "scale": {"domain": [-0.137, 2.84], "nice": false, "zero": false}, "axis": {"values": [0,0.5,1,1.5,2,2.5], "title": "Expected -log₁₀(p)", "labelExpr": "datum.value % 1 === 0 ? format(datum.value, 'd') : ''", "tickOpacity": {"condition": {"test": "datum.value % 1 === 0", "value": 1}, "value": 0}, "gridWidth": {"condition": {"test": "datum.value % 1 === 0", "value": 1.8}, "value": 0.9}}},
  "y": {"field": "y", "type": "quantitative", "scale": {"domain": [-0.16, 4.18], "nice": false, "zero": false}, "axis": {"values": [0,0.5,1,1.5,2,2.5,3,3.5], "labels": false, "ticks": false, "title": null, "gridWidth": {"condition": {"test": "datum.value % 1 === 0", "value": 1.8}, "value": 0.9}}},
  "color": {"field": "m", "type": "nominal", "title": "model", "scale": {"domain": ["general","additive","diplo-general","diplo-additive"], "range": ["#E41A1C","#377EB8","#4DAF4A","#984EA3"]}}}},
 {"transform": [{"aggregate": [{"op": "count", "as": "n"}], "groupby": ["c"]}], "mark": {"type": "rule", "color": "#333333", "strokeWidth": 1.1, "strokeDash": [4.5, 4.5]}, "encoding": {"x": {"datum": -0.137}, "y": {"datum": -0.137}, "x2": {"datum": 2.84}, "y2": {"datum": 2.84}}},
 {"transform": [{"aggregate": [{"op": "count", "as": "n"}], "groupby": ["c"]}], "mark": {"type": "rect", "fill": "#D9D9D9", "stroke": "#333333", "strokeWidth": 1.1}, "encoding": {"x": {"datum": -0.137}, "x2": {"datum": 2.84}, "y": {"datum": 3.52}, "y2": {"datum": 4.18}}},
 {"transform": [{"aggregate": [{"op": "count", "as": "n"}], "groupby": ["c"]}], "mark": {"type": "text", "font": "Liberation Sans", "fontSize": 18.5, "color": "#1A1A1A", "align": "center", "baseline": "middle"}, "encoding": {"x": {"datum": 1.3515}, "y": {"datum": 3.85}, "text": {"field": "c"}}}
]},
{"width": 217.4, "height": 216.7, "transform": [{"filter": "datum.c === 'Chr12'"}], "layer": [
 {"mark": {"type": "point", "filled": true, "size": 38, "opacity": 1}, "encoding": {
  "x": {"field": "x", "type": "quantitative", "scale": {"domain": [-0.137, 2.84], "nice": false, "zero": false}, "axis": {"values": [0,0.5,1,1.5,2,2.5], "title": null, "labelExpr": "datum.value % 1 === 0 ? format(datum.value, 'd') : ''", "tickOpacity": {"condition": {"test": "datum.value % 1 === 0", "value": 1}, "value": 0}, "gridWidth": {"condition": {"test": "datum.value % 1 === 0", "value": 1.8}, "value": 0.9}}},
  "y": {"field": "y", "type": "quantitative", "scale": {"domain": [-0.16, 4.18], "nice": false, "zero": false}, "axis": {"values": [0,0.5,1,1.5,2,2.5,3,3.5], "labels": false, "ticks": false, "title": null, "gridWidth": {"condition": {"test": "datum.value % 1 === 0", "value": 1.8}, "value": 0.9}}},
  "color": {"field": "m", "type": "nominal", "title": "model", "scale": {"domain": ["general","additive","diplo-general","diplo-additive"], "range": ["#E41A1C","#377EB8","#4DAF4A","#984EA3"]}}}},
 {"transform": [{"aggregate": [{"op": "count", "as": "n"}], "groupby": ["c"]}], "mark": {"type": "rule", "color": "#333333", "strokeWidth": 1.1, "strokeDash": [4.5, 4.5]}, "encoding": {"x": {"datum": -0.137}, "y": {"datum": -0.137}, "x2": {"datum": 2.84}, "y2": {"datum": 2.84}}},
 {"transform": [{"aggregate": [{"op": "count", "as": "n"}], "groupby": ["c"]}], "mark": {"type": "rect", "fill": "#D9D9D9", "stroke": "#333333", "strokeWidth": 1.1}, "encoding": {"x": {"datum": -0.137}, "x2": {"datum": 2.84}, "y": {"datum": 3.52}, "y2": {"datum": 4.18}}},
 {"transform": [{"aggregate": [{"op": "count", "as": "n"}], "groupby": ["c"]}], "mark": {"type": "text", "font": "Liberation Sans", "fontSize": 18.5, "color": "#1A1A1A", "align": "center", "baseline": "middle"}, "encoding": {"x": {"datum": 1.3515}, "y": {"datum": 3.85}, "text": {"field": "c"}}}
]}
],
"config": {
 "font": "Liberation Sans",
 "view": {"stroke": "#333333", "strokeWidth": 1.1},
 "axis": {"domain": false, "gridColor": "#EBEBEB", "tickColor": "#333333", "tickWidth": 1.1, "tickSize": 5, "labelOverlap": false, "labelFont": "Liberation Sans", "labelFontSize": 18, "labelColor": "#4D4D4D", "labelPadding": 3, "titleFont": "Liberation Sans", "titleFontSize": 23, "titleFontWeight": "normal", "titleColor": "#000000"},
 "axisY": {"titlePadding": 8},
 "axisX": {"titlePadding": 5},
 "legend": {"orient": "none", "legendX": 692.4, "legendY": 282.5, "titleFont": "Liberation Sans", "titleFontSize": 23, "titleFontWeight": "normal", "titleColor": "#000000", "titlePadding": 12, "labelFont": "Liberation Sans", "labelFontSize": 18, "labelColor": "#000000", "symbolType": "circle", "symbolSize": 22, "symbolStrokeWidth": 0, "rowPadding": 8, "symbolOffset": 3, "labelOffset": 18}
}
}
